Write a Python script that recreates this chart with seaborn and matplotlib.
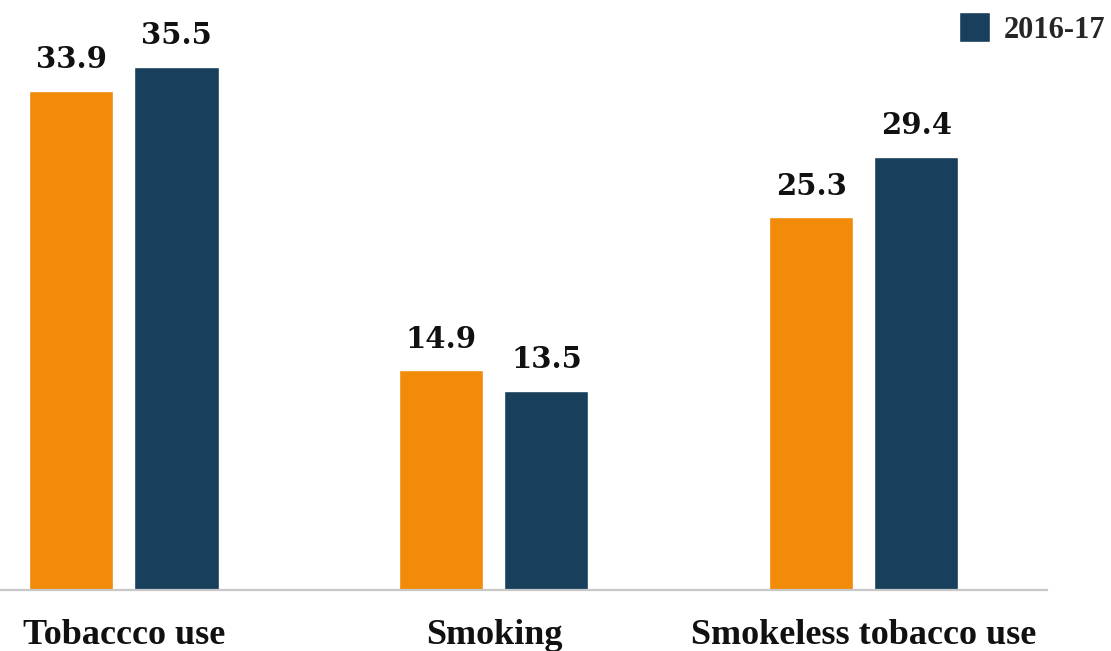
import seaborn as sns
import matplotlib.pyplot as plt
import pandas as pd

categories = ["Tobaccco use", "Smoking", "Smokeless tobacco use"]
periods = ["2009-10", "2016-17"]
values_2009 = [33.9, 14.9, 25.3]
values_2016 = [35.5, 13.5, 29.4]
colors = ["#F28A0A", "#183F5C"]

df = pd.DataFrame({
    "category": categories * 2,
    "period": [periods[0]] * len(categories) + [periods[1]] * len(categories),
    "value": values_2009 + values_2016,
})

sns.set_style("white")
fig = plt.figure(figsize=(11.11, 6.51), dpi=100)
ax = fig.add_axes([0, 61 / 651, 1047 / 1111, 590 / 651])
sns.barplot(data=df, x="category", y="value", hue="period", palette=colors,
            width=0.568, gap=0.2, saturation=1, errorbar=None, ax=ax)
ax.set_xlim(-0.335, 2.495)
ax.set_ylim(0, 40.05)

for c in ax.containers:
    ax.bar_label(c, fmt="%.1f", padding=12, fontsize=21, fontweight="bold",
                 family="DejaVu Serif", color="#111111")

for s in ["left", "top", "right"]:
    ax.spines[s].set_visible(False)
ax.spines["bottom"].set_color("#C8C8C8")
ax.spines["bottom"].set_linewidth(1.6)
ax.set_yticks([])
ax.set_xlabel("")
ax.set_ylabel("")
ax.tick_params(axis="x", length=0, pad=21)
for lbl in ax.get_xticklabels():
    lbl.set_fontsize(26)
    lbl.set_fontweight("bold")
    lbl.set_family("Liberation Serif")
    lbl.set_color("#111111")

handles, labels = ax.get_legend_handles_labels()
if ax.get_legend() is not None:
    ax.get_legend().remove()
fig.legend([handles[1]], [labels[1]], loc="center right",
           bbox_to_anchor=(1105 / 1111, 1 - 28.5 / 651), bbox_transform=fig.transFigure,
           frameon=False, borderpad=0, borderaxespad=0,
           handlelength=1.0, handleheight=1.12, handletextpad=0.45,
           prop={"family": "Liberation Serif", "weight": "bold", "size": 22})

fig.savefig("out.png", dpi=100)
